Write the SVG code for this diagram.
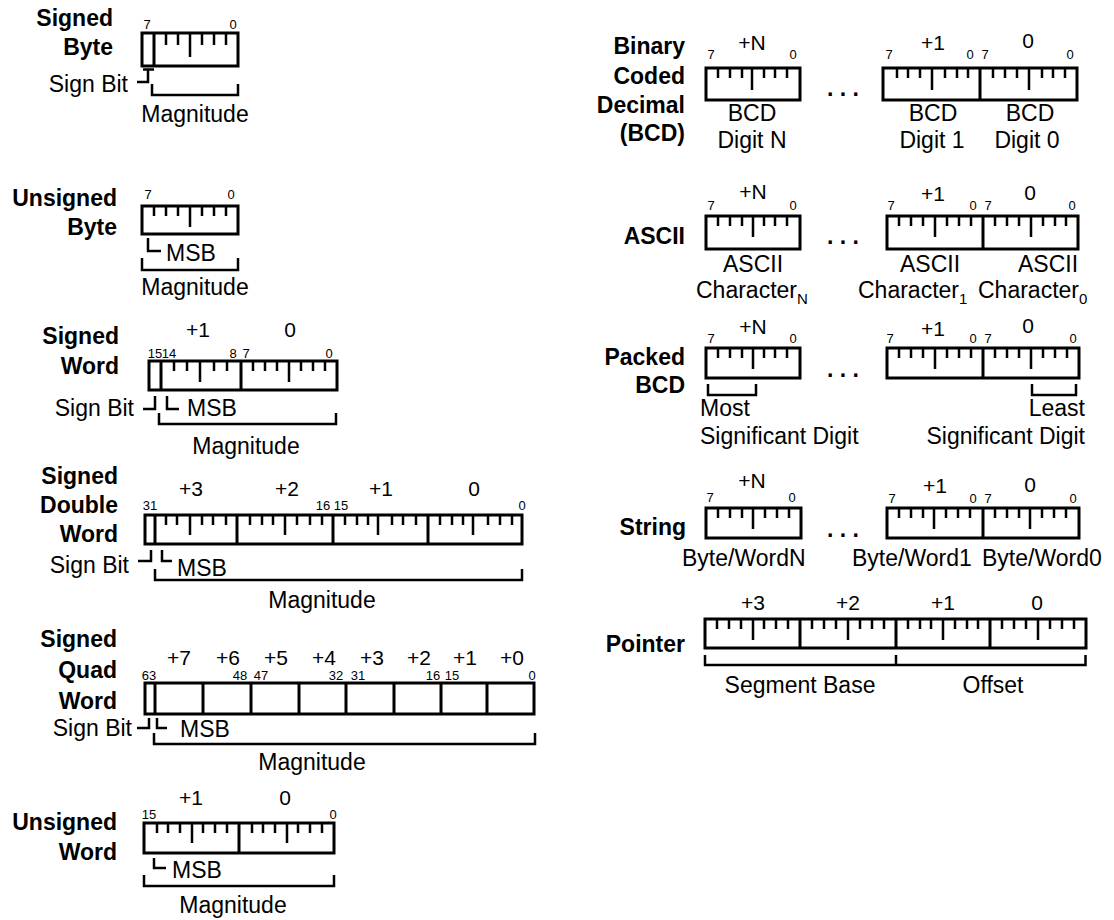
<svg xmlns="http://www.w3.org/2000/svg" width="1114" height="920" viewBox="0 0 1114 920">
  <style>
    text { font-family: "Liberation Sans", Arial, Helvetica, sans-serif; fill: #000; }
    .t { font-size: 23px; font-weight: bold; text-anchor: end; }
    .l { font-size: 23px; }
    .c { font-size: 23px; text-anchor: middle; }
    .r { font-size: 23px; text-anchor: end; }
    .o { font-size: 21px; text-anchor: middle; }
    .n { font-size: 13px; text-anchor: middle; }
    .nq { font-size: 13px; text-anchor: middle; }
    .dots { font-size: 23px; font-weight: bold; text-anchor: middle; }
    .box { fill: #fff; stroke: #000; stroke-width: 3; }
    .div { stroke: #000; stroke-width: 3; fill: none; }
    .tk { stroke: #000; stroke-width: 2.5; fill: none; }
    .br { stroke: #000; stroke-width: 2.5; fill: none; stroke-linejoin: miter; }
  </style>

  <!-- Signed Byte -->
  <g id="signed-byte">
    <text class="t" x="113" y="26">Signed</text>
    <text class="t" x="113" y="55">Byte</text>
    <text class="n" x="147" y="29">7</text>
    <text class="n" x="233" y="29">0</text>
    <rect class="box" x="142" y="33" width="96" height="33"/>
    <path class="div" d="M154,33V66"/>
    <path class="tk" d="M166,33V45M178,33V45M202,33V45M214,33V45M226,33V45M190,33V57"/>
    <text class="r" x="128" y="92">Sign Bit</text>
    <text class="c" x="195" y="122">Magnitude</text>
  </g>

  <!-- Unsigned Byte -->
  <g id="unsigned-byte">
    <text class="t" x="117" y="206">Unsigned</text>
    <text class="t" x="117" y="235">Byte</text>
    <text class="n" x="148" y="199">7</text>
    <text class="n" x="231" y="199">0</text>
    <rect class="box" x="142" y="206" width="96" height="28"/>
    <path class="tk" d="M154,206V216M166,206V216M178,206V216M202,206V216M214,206V216M226,206V216M190,206V227"/>
    <text class="l" x="166" y="261">MSB</text>
    <text class="c" x="195" y="295">Magnitude</text>
  </g>

  <!-- Signed Word -->
  <g id="signed-word">
    <text class="t" x="119" y="344">Signed</text>
    <text class="t" x="119" y="374">Word</text>
    <text class="o" x="198" y="337">+1</text>
    <text class="o" x="290" y="337">0</text>
    <text class="n" x="155" y="358">15</text>
    <text class="n" x="169" y="358">14</text>
    <text class="n" x="233" y="358">8</text>
    <text class="n" x="246" y="358">7</text>
    <text class="n" x="329" y="358">0</text>
    <rect class="box" x="149" y="361" width="188" height="29"/>
    <path class="div" d="M161,361V390M241,361V390"/>
    <path class="tk" d="M174,361V371M187,361V371M214,361V371M227,361V371M253,361V371M265,361V371M277,361V371M301,361V371M313,361V371M325,361V371M200,361V382M289,361V382"/>
    <text class="r" x="134" y="416">Sign Bit</text>
    <text class="l" x="187" y="416">MSB</text>
    <text class="c" x="246" y="454">Magnitude</text>
  </g>

  <!-- Signed Double Word -->
  <g id="signed-double-word">
    <text class="t" x="118" y="484">Signed</text>
    <text class="t" x="118" y="513">Double</text>
    <text class="t" x="118" y="542">Word</text>
    <text class="o" x="191" y="496">+3</text>
    <text class="o" x="287" y="496">+2</text>
    <text class="o" x="381" y="496">+1</text>
    <text class="o" x="474" y="496">0</text>
    <text class="n" x="150" y="510">31</text>
    <text class="n" x="323" y="510">16</text>
    <text class="n" x="341" y="510">15</text>
    <text class="n" x="522" y="510">0</text>
    <rect class="box" x="145" y="515" width="377" height="29"/>
    <path class="div" d="M155,515V544M237,515V544M333,515V544M428,515V544"/>
    <path class="tk" d="M166,515V525M177,515V525M202,515V525M213,515V525M226,515V525M250,515V525M262,515V525M273,515V525M297,515V525M310,515V525M322,515V525M345,515V525M357,515V525M368,515V525M392,515V525M403,515V525M416,515V525M440,515V525M452,515V525M463,515V525M488,515V525M500,515V525M512,515V525M190,515V535M285,515V535M378,515V535M473,515V535"/>
    <text class="r" x="129" y="573">Sign Bit</text>
    <text class="l" x="177" y="576">MSB</text>
    <text class="c" x="322" y="608">Magnitude</text>
  </g>

  <!-- Signed Quad Word -->
  <g id="signed-quad-word">
    <text class="t" x="117" y="647">Signed</text>
    <text class="t" x="117" y="678">Quad</text>
    <text class="t" x="117" y="709">Word</text>
    <text class="o" x="179" y="665">+7</text>
    <text class="o" x="228" y="665">+6</text>
    <text class="o" x="276" y="665">+5</text>
    <text class="o" x="324" y="665">+4</text>
    <text class="o" x="372" y="665">+3</text>
    <text class="o" x="419" y="665">+2</text>
    <text class="o" x="465" y="665">+1</text>
    <text class="o" x="512" y="665">+0</text>
    <text class="nq" x="149" y="680">63</text>
    <text class="nq" x="240" y="680">48</text>
    <text class="nq" x="261" y="680">47</text>
    <text class="nq" x="336" y="680">32</text>
    <text class="nq" x="358" y="680">31</text>
    <text class="nq" x="433" y="680">16</text>
    <text class="nq" x="452" y="680">15</text>
    <text class="nq" x="532" y="680">0</text>
    <rect class="box" x="145" y="683" width="389" height="31"/>
    <path class="div" d="M155,683V714M203,683V714M251,683V714M299,683V714M346,683V714M394,683V714M441,683V714M487,683V714"/>
    <text class="r" x="132" y="736">Sign Bit</text>
    <text class="l" x="180" y="737">MSB</text>
    <text class="c" x="312" y="770">Magnitude</text>
  </g>

  <!-- Unsigned Word -->
  <g id="unsigned-word">
    <text class="t" x="117" y="830">Unsigned</text>
    <text class="t" x="117" y="860">Word</text>
    <text class="o" x="191" y="805">+1</text>
    <text class="o" x="285" y="805">0</text>
    <text class="nq" x="149" y="819">15</text>
    <text class="nq" x="333" y="819">0</text>
    <rect class="box" x="144" y="823" width="190" height="30"/>
    <path class="div" d="M239,823V853"/>
    <path class="tk" d="M157,823V833M168,823V833M180,823V833M203,823V833M215,823V833M227,823V833M252,823V833M263,823V833M275,823V833M298,823V833M310,823V833M322,823V833M192,823V843M287,823V843"/>
    <text class="l" x="172" y="878">MSB</text>
    <text class="c" x="233" y="913">Magnitude</text>
  </g>

  <!-- Binary Coded Decimal -->
  <g id="bcd">
    <text class="t" x="685" y="54">Binary</text>
    <text class="t" x="685" y="84">Coded</text>
    <text class="t" x="685" y="113">Decimal</text>
    <text class="t" x="685" y="141">(BCD)</text>
    <text class="o" x="752" y="50">+N</text>
    <text class="o" x="933" y="50">+1</text>
    <text class="o" x="1028" y="48">0</text>
    <text class="n" x="711" y="59">7</text>
    <text class="n" x="793" y="59">0</text>
    <text class="n" x="889" y="59">7</text>
    <text class="n" x="970" y="59">0</text>
    <text class="n" x="985" y="59">7</text>
    <text class="n" x="1070" y="59">0</text>
    <rect class="box" x="706" y="68" width="94" height="32"/>
    <path class="tk" d="M718,68V78M730,68V78M742,68V78M764,68V78M775,68V78M787,68V78M752,68V90"/>
    <text class="dots" x="843" y="96">. . .</text>
    <rect class="box" x="883" y="68" width="194" height="32"/>
    <path class="div" d="M980,68V100"/>
    <path class="tk" d="M897,68V78M908,68V78M920,68V78M945,68V78M957,68V78M968,68V78M993,68V78M1005,68V78M1017,68V78M1042,68V78M1053,68V78M1065,68V78M932,68V90M1029,68V90"/>
    <text class="c" x="752" y="121">BCD</text>
    <text class="c" x="752" y="148">Digit N</text>
    <text class="c" x="933" y="121">BCD</text>
    <text class="c" x="932" y="148">Digit 1</text>
    <text class="c" x="1030" y="121">BCD</text>
    <text class="c" x="1027" y="148">Digit 0</text>
  </g>

  <!-- ASCII -->
  <g id="ascii">
    <text class="t" x="685" y="244">ASCII</text>
    <text class="o" x="753" y="199">+N</text>
    <text class="o" x="933" y="201">+1</text>
    <text class="o" x="1030" y="200">0</text>
    <text class="n" x="711" y="210">7</text>
    <text class="n" x="793" y="210">0</text>
    <text class="n" x="891" y="210">7</text>
    <text class="n" x="973" y="210">0</text>
    <text class="n" x="988" y="210">7</text>
    <text class="n" x="1072" y="210">0</text>
    <rect class="box" x="706" y="216" width="94" height="33"/>
    <path class="tk" d="M718,216V226M730,216V226M742,216V226M764,216V226M775,216V226M787,216V226M753,216V237"/>
    <text class="dots" x="843" y="244">. . .</text>
    <rect class="box" x="887" y="216" width="191" height="33"/>
    <path class="div" d="M983,216V249"/>
    <path class="tk" d="M899,216V226M911,216V226M923,216V226M947,216V226M959,216V226M971,216V226M995,216V226M1007,216V226M1019,216V226M1043,216V226M1055,216V226M1066,216V226M935,216V237M1031,216V237"/>
    <text class="c" x="753" y="272">ASCII</text>
    <text class="l" x="696" y="298">Character<tspan font-size="15" dy="6">N</tspan></text>
    <text class="c" x="930" y="272">ASCII</text>
    <text class="l" x="858" y="298">Character<tspan font-size="15" dy="6">1</tspan></text>
    <text class="c" x="1048" y="272">ASCII</text>
    <text class="l" x="978" y="298">Character<tspan font-size="15" dy="6">0</tspan></text>
  </g>

  <!-- Packed BCD -->
  <g id="packed-bcd">
    <text class="t" x="685" y="365">Packed</text>
    <text class="t" x="685" y="393">BCD</text>
    <text class="o" x="753" y="334">+N</text>
    <text class="o" x="933" y="336">+1</text>
    <text class="o" x="1028" y="333">0</text>
    <text class="n" x="711" y="343">7</text>
    <text class="n" x="793" y="343">0</text>
    <text class="n" x="890" y="343">7</text>
    <text class="n" x="973" y="343">0</text>
    <text class="n" x="988" y="343">7</text>
    <text class="n" x="1073" y="343">0</text>
    <rect class="box" x="706" y="348" width="94" height="30"/>
    <path class="tk" d="M718,348V358M730,348V358M742,348V358M764,348V358M775,348V358M787,348V358M753,348V369"/>
    <text class="dots" x="843" y="377">. . .</text>
    <rect class="box" x="887" y="348" width="192" height="30"/>
    <path class="div" d="M983,348V378"/>
    <path class="tk" d="M899,348V358M911,348V358M923,348V358M947,348V358M959,348V358M971,348V358M995,348V358M1007,348V358M1019,348V358M1043,348V358M1055,348V358M1067,348V358M935,348V369M1031,348V369"/>
    <text class="l" x="700" y="416">Most</text>
    <text class="l" x="700" y="444">Significant Digit</text>
    <text class="r" x="1085" y="416">Least</text>
    <text class="r" x="1085" y="444">Significant Digit</text>
  </g>

  <!-- String -->
  <g id="string">
    <text class="t" x="686" y="535">String</text>
    <text class="o" x="752" y="488">+N</text>
    <text class="o" x="935" y="493">+1</text>
    <text class="o" x="1030" y="492">0</text>
    <text class="n" x="710" y="502">7</text>
    <text class="n" x="792" y="502">0</text>
    <text class="n" x="892" y="503">7</text>
    <text class="n" x="973" y="503">0</text>
    <text class="n" x="988" y="503">7</text>
    <text class="n" x="1073" y="503">0</text>
    <rect class="box" x="706" y="508" width="95" height="30"/>
    <path class="tk" d="M718,508V518M730,508V518M742,508V518M765,508V518M777,508V518M789,508V518M753,508V529"/>
    <text class="dots" x="843" y="537">. . .</text>
    <rect class="box" x="887" y="508" width="192" height="30"/>
    <path class="div" d="M983,508V538"/>
    <path class="tk" d="M899,508V518M911,508V518M923,508V518M946,508V518M958,508V518M970,508V518M995,508V518M1007,508V518M1019,508V518M1042,508V518M1054,508V518M1066,508V518M934,508V529M1030,508V529"/>
    <text class="l" x="682" y="566">Byte/WordN</text>
    <text class="l" x="852" y="566">Byte/Word1</text>
    <text class="l" x="982" y="566">Byte/Word0</text>
  </g>

  <!-- Pointer -->
  <g id="pointer">
    <text class="t" x="685" y="652">Pointer</text>
    <text class="o" x="753" y="610">+3</text>
    <text class="o" x="848" y="610">+2</text>
    <text class="o" x="943" y="610">+1</text>
    <text class="o" x="1037" y="610">0</text>
    <rect class="box" x="705" y="619" width="381" height="29"/>
    <path class="div" d="M800,619V648M896,619V648M990,619V648"/>
    <path class="tk" d="M717,619V629M729,619V629M741,619V629M764,619V629M776,619V629M788,619V629M812,619V629M824,619V629M836,619V629M860,619V629M872,619V629M884,619V629M908,619V629M920,619V629M931,619V629M955,619V629M967,619V629M978,619V629M1002,619V629M1014,619V629M1026,619V629M1050,619V629M1062,619V629M1074,619V629M753,619V640M848,619V640M943,619V640M1038,619V640"/>
    <text class="c" x="800" y="693">Segment Base</text>
    <text class="c" x="993" y="693">Offset</text>
  </g>

  <!-- Leader lines and span brackets -->
  <g id="connectors">
    <!-- signed byte -->
    <path class="br" d="M143,69.5H154M148,69.5V82H137"/>
    <path class="br" d="M152,84V95H238V84"/>
    <!-- unsigned byte -->
    <path class="br" d="M148,238V251H161"/>
    <path class="br" d="M142,258V270H238V258"/>
    <!-- signed word -->
    <path class="br" d="M155,396V409H143"/>
    <path class="br" d="M167,396V409H179"/>
    <path class="br" d="M159,413V424H336V413"/>
    <!-- signed double word -->
    <path class="br" d="M151,550V561H138"/>
    <path class="br" d="M162,550V561H172"/>
    <path class="br" d="M155,569V580H522V569"/>
    <!-- signed quad word -->
    <path class="br" d="M149,718V728H137"/>
    <path class="br" d="M157,718V728H167"/>
    <path class="br" d="M154,733V744H535V733"/>
    <!-- unsigned word -->
    <path class="br" d="M154,858V868H166"/>
    <path class="br" d="M144,875V886H334V875"/>
    <!-- packed BCD digits -->
    <path class="br" d="M708,384V395H756V384"/>
    <path class="br" d="M1032,384V395H1076V384"/>
    <!-- pointer fields -->
    <path class="br" d="M705,655V665H1085.5V655M896,655V665"/>
  </g>
</svg>
